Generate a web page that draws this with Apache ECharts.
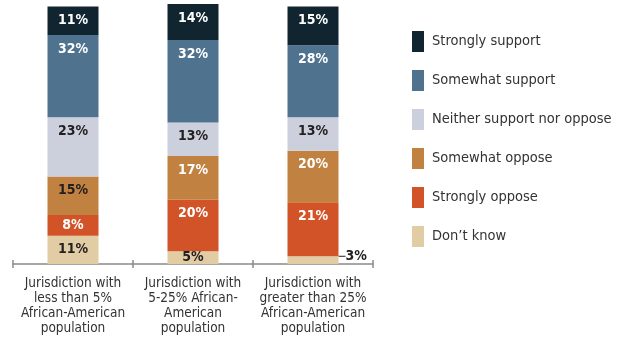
<!DOCTYPE html>
<html>
<head>
  <meta charset="utf-8">
  <style>
    html, body { margin: 0; padding: 0; width: 100%; height: 100%; overflow: hidden; background: #fff; }
  </style>
  <script src="https://cdn.jsdelivr.net/npm/echarts@6/dist/echarts.min.js"></script>
</head>
<body>
  <div id="container" style="width: 624px; height: 339px;"></div>
  <script>
    // categories (x axis)
    const categories = [
      'Jurisdiction with\nless than 5%\nAfrican-American\npopulation',
      'Jurisdiction with\n5-25% African-\nAmerican\npopulation',
      'Jurisdiction with\ngreater than 25%\nAfrican-American\npopulation'
    ];

    // series values, bottom of the stack first
    const dontKnow = [11, 5, 3];
    const stronglyOppose = [8, 20, 21];
    const somewhatOppose = [15, 17, 20];
    const neither = [23, 13, 13];
    const somewhatSupport = [32, 32, 28];
    const stronglySupport = [11, 14, 15];

    const legendOrder = ['Strongly support', 'Somewhat support', 'Neither support nor oppose',
      'Somewhat oppose', 'Strongly oppose', 'Don\u2019t know'];

    const FONT = '"DejaVu Sans Condensed", "Liberation Sans Narrow", sans-serif';

    function bar(name, data, color, labelColor) {
      return {
        name: name,
        type: 'bar',
        stack: 'total',
        barWidth: 51,
        clip: false,
        itemStyle: { color: color },
        label: {
          show: true,
          position: 'insideTop',
          distance: 7,
          formatter: '{c}%',
          color: labelColor,
          fontFamily: FONT,
          fontWeight: 'bold',
          fontSize: 14
        },
        data: data.slice()
      };
    }

    const series = [
      bar('Don\u2019t know', dontKnow, '#e2cca4', '#231f20'),
      bar('Strongly oppose', stronglyOppose, '#d25328', '#fff'),
      bar('Somewhat oppose', somewhatOppose, '#c18141', '#fff'),
      bar('Neither support nor oppose', neither, '#cbd0dc', '#231f20'),
      bar('Somewhat support', somewhatSupport, '#4f728e', '#fff'),
      bar('Strongly support', stronglySupport, '#10252f', '#fff')
    ];

    // first bar's "somewhat oppose" label is dark
    series[2].data[0] = { value: somewhatOppose[0], label: { color: '#231f20' } };
    // tight segments: centre the label
    series[1].data[0] = { value: stronglyOppose[0], label: { position: 'inside' } };
    series[0].data[1] = { value: dontKnow[1], label: { position: 'inside' } };
    // smallest "don't know" label sits outside with a leader line
    series[0].data[2] = {
      value: dontKnow[2],
      label: { color: '#231f20' },
      labelLine: { show: true, lineStyle: { color: '#231f20', width: 1 } }
    };
    series[0].labelLayout = function (p) {
      if (p.dataIndex !== 2) return {};
      const r = p.rect;
      const sx = r.x + r.width * 0.7, sy = r.y + r.height / 2;
      const ex = r.x + r.width + 5, ey = r.y + 1;
      return {
        x: r.x + r.width + 7,
        y: r.y,
        align: 'left',
        verticalAlign: 'middle',
        labelLinePoints: [[sx, sy], [ex, ey], [ex, ey]]
      };
    };

    const chart = echarts.init(document.getElementById('container'), null, { renderer: 'canvas' });

    chart.setOption({
      animation: false,
      grid: { left: 13, right: 251, top: 4, bottom: 75 },
      legend: {
        data: legendOrder,
        orient: 'vertical',
        left: 412,
        top: 31,
        padding: 0,
        itemWidth: 12,
        itemHeight: 21,
        itemGap: 18,
        icon: 'rect',
        selectedMode: false,
        textStyle: { fontFamily: FONT, fontSize: 14.5, color: '#333', padding: [0, 0, 0, 3] }
      },
      xAxis: [{
        type: 'category',
        data: categories,
        axisLine: { lineStyle: { color: '#8a8a8a', width: 1.5 } },
        axisTick: { show: true, length: 4, lineStyle: { color: '#8a8a8a', width: 1.5 } },
        axisLabel: { interval: 0, margin: 12, fontFamily: FONT, fontSize: 13.5, lineHeight: 15, color: '#333' }
      }, {
        type: 'category',
        data: categories,
        position: 'bottom',
        axisLine: { show: false },
        axisTick: { show: true, inside: true, length: 4, lineStyle: { color: '#8a8a8a', width: 1.5 } },
        axisLabel: { show: false }
      }],
      yAxis: { type: 'value', min: 0, max: 101, show: false },
      series: series
    });
  </script>
</body>
</html>
